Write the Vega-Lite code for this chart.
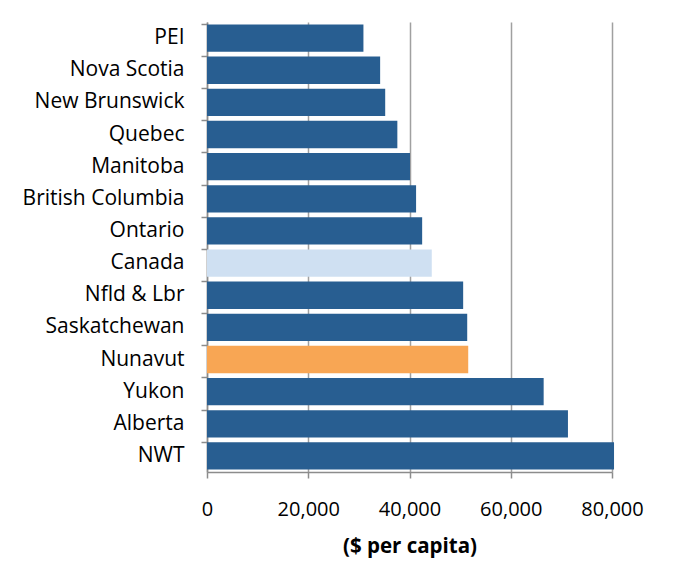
{
  "$schema": "https://vega.github.io/schema/vega-lite/v6.json",
  "width": 405,
  "height": 450,
  "autosize": {"type": "none"},
  "padding": {"left": 207, "top": 22, "right": 74, "bottom": 109},
  "background": "white",
  "data": {
    "values": [
      {"region": "PEI", "value": 30900, "kind": "prov"},
      {"region": "Nova Scotia", "value": 34200, "kind": "prov"},
      {"region": "New Brunswick", "value": 35200, "kind": "prov"},
      {"region": "Quebec", "value": 37600, "kind": "prov"},
      {"region": "Manitoba", "value": 40100, "kind": "prov"},
      {"region": "British Columbia", "value": 41300, "kind": "prov"},
      {"region": "Ontario", "value": 42500, "kind": "prov"},
      {"region": "Canada", "value": 44400, "kind": "canada"},
      {"region": "Nfld & Lbr", "value": 50600, "kind": "prov"},
      {"region": "Saskatchewan", "value": 51400, "kind": "prov"},
      {"region": "Nunavut", "value": 51600, "kind": "nunavut"},
      {"region": "Yukon", "value": 66500, "kind": "prov"},
      {"region": "Alberta", "value": 71300, "kind": "prov"},
      {"region": "NWT", "value": 80400, "kind": "prov"}
    ]
  },
  "mark": {"type": "bar"},
  "encoding": {
    "y": {
      "field": "region",
      "type": "nominal",
      "sort": null,
      "scale": {"paddingInner": 0.15, "paddingOuter": 0.075},
      "axis": {
        "title": null,
        "bandPosition": 0,
        "domainColor": "#8c8c8c",
        "domainWidth": 1.5,
        "tickColor": "#8c8c8c",
        "tickWidth": 1.5,
        "tickSize": 6,
        "labelPadding": 17,
        "labelFont": "Open Sans",
        "labelFontSize": 21,
        "labelColor": "#000000",
        "grid": false
      }
    },
    "x": {
      "field": "value",
      "type": "quantitative",
      "scale": {"domain": [0, 80000], "nice": false},
      "axis": {
        "values": [0, 20000, 40000, 60000, 80000],
        "format": ",d",
        "labelFlush": false,
        "labelOverlap": false,
        "title": "($ per capita)",
        "titleFont": "Open Sans",
        "titleFontSize": 20.5,
        "titleFontWeight": "bold",
        "titleColor": "#000000",
        "titlePadding": 17,
        "grid": true,
        "gridColor": "#a0a0a0",
        "gridWidth": 1.5,
        "domainColor": "#8c8c8c",
        "domainWidth": 1.5,
        "tickColor": "#8c8c8c",
        "tickWidth": 1.5,
        "tickSize": 6,
        "labelPadding": 21,
        "labelFont": "Open Sans",
        "labelFontSize": 20,
        "labelColor": "#000000"
      }
    },
    "color": {
      "field": "kind",
      "type": "nominal",
      "scale": {"domain": ["prov", "canada", "nunavut"], "range": ["#285E91", "#CFE0F2", "#F8A654"]},
      "legend": null
    }
  },
  "config": {"view": {"stroke": null}}
}
